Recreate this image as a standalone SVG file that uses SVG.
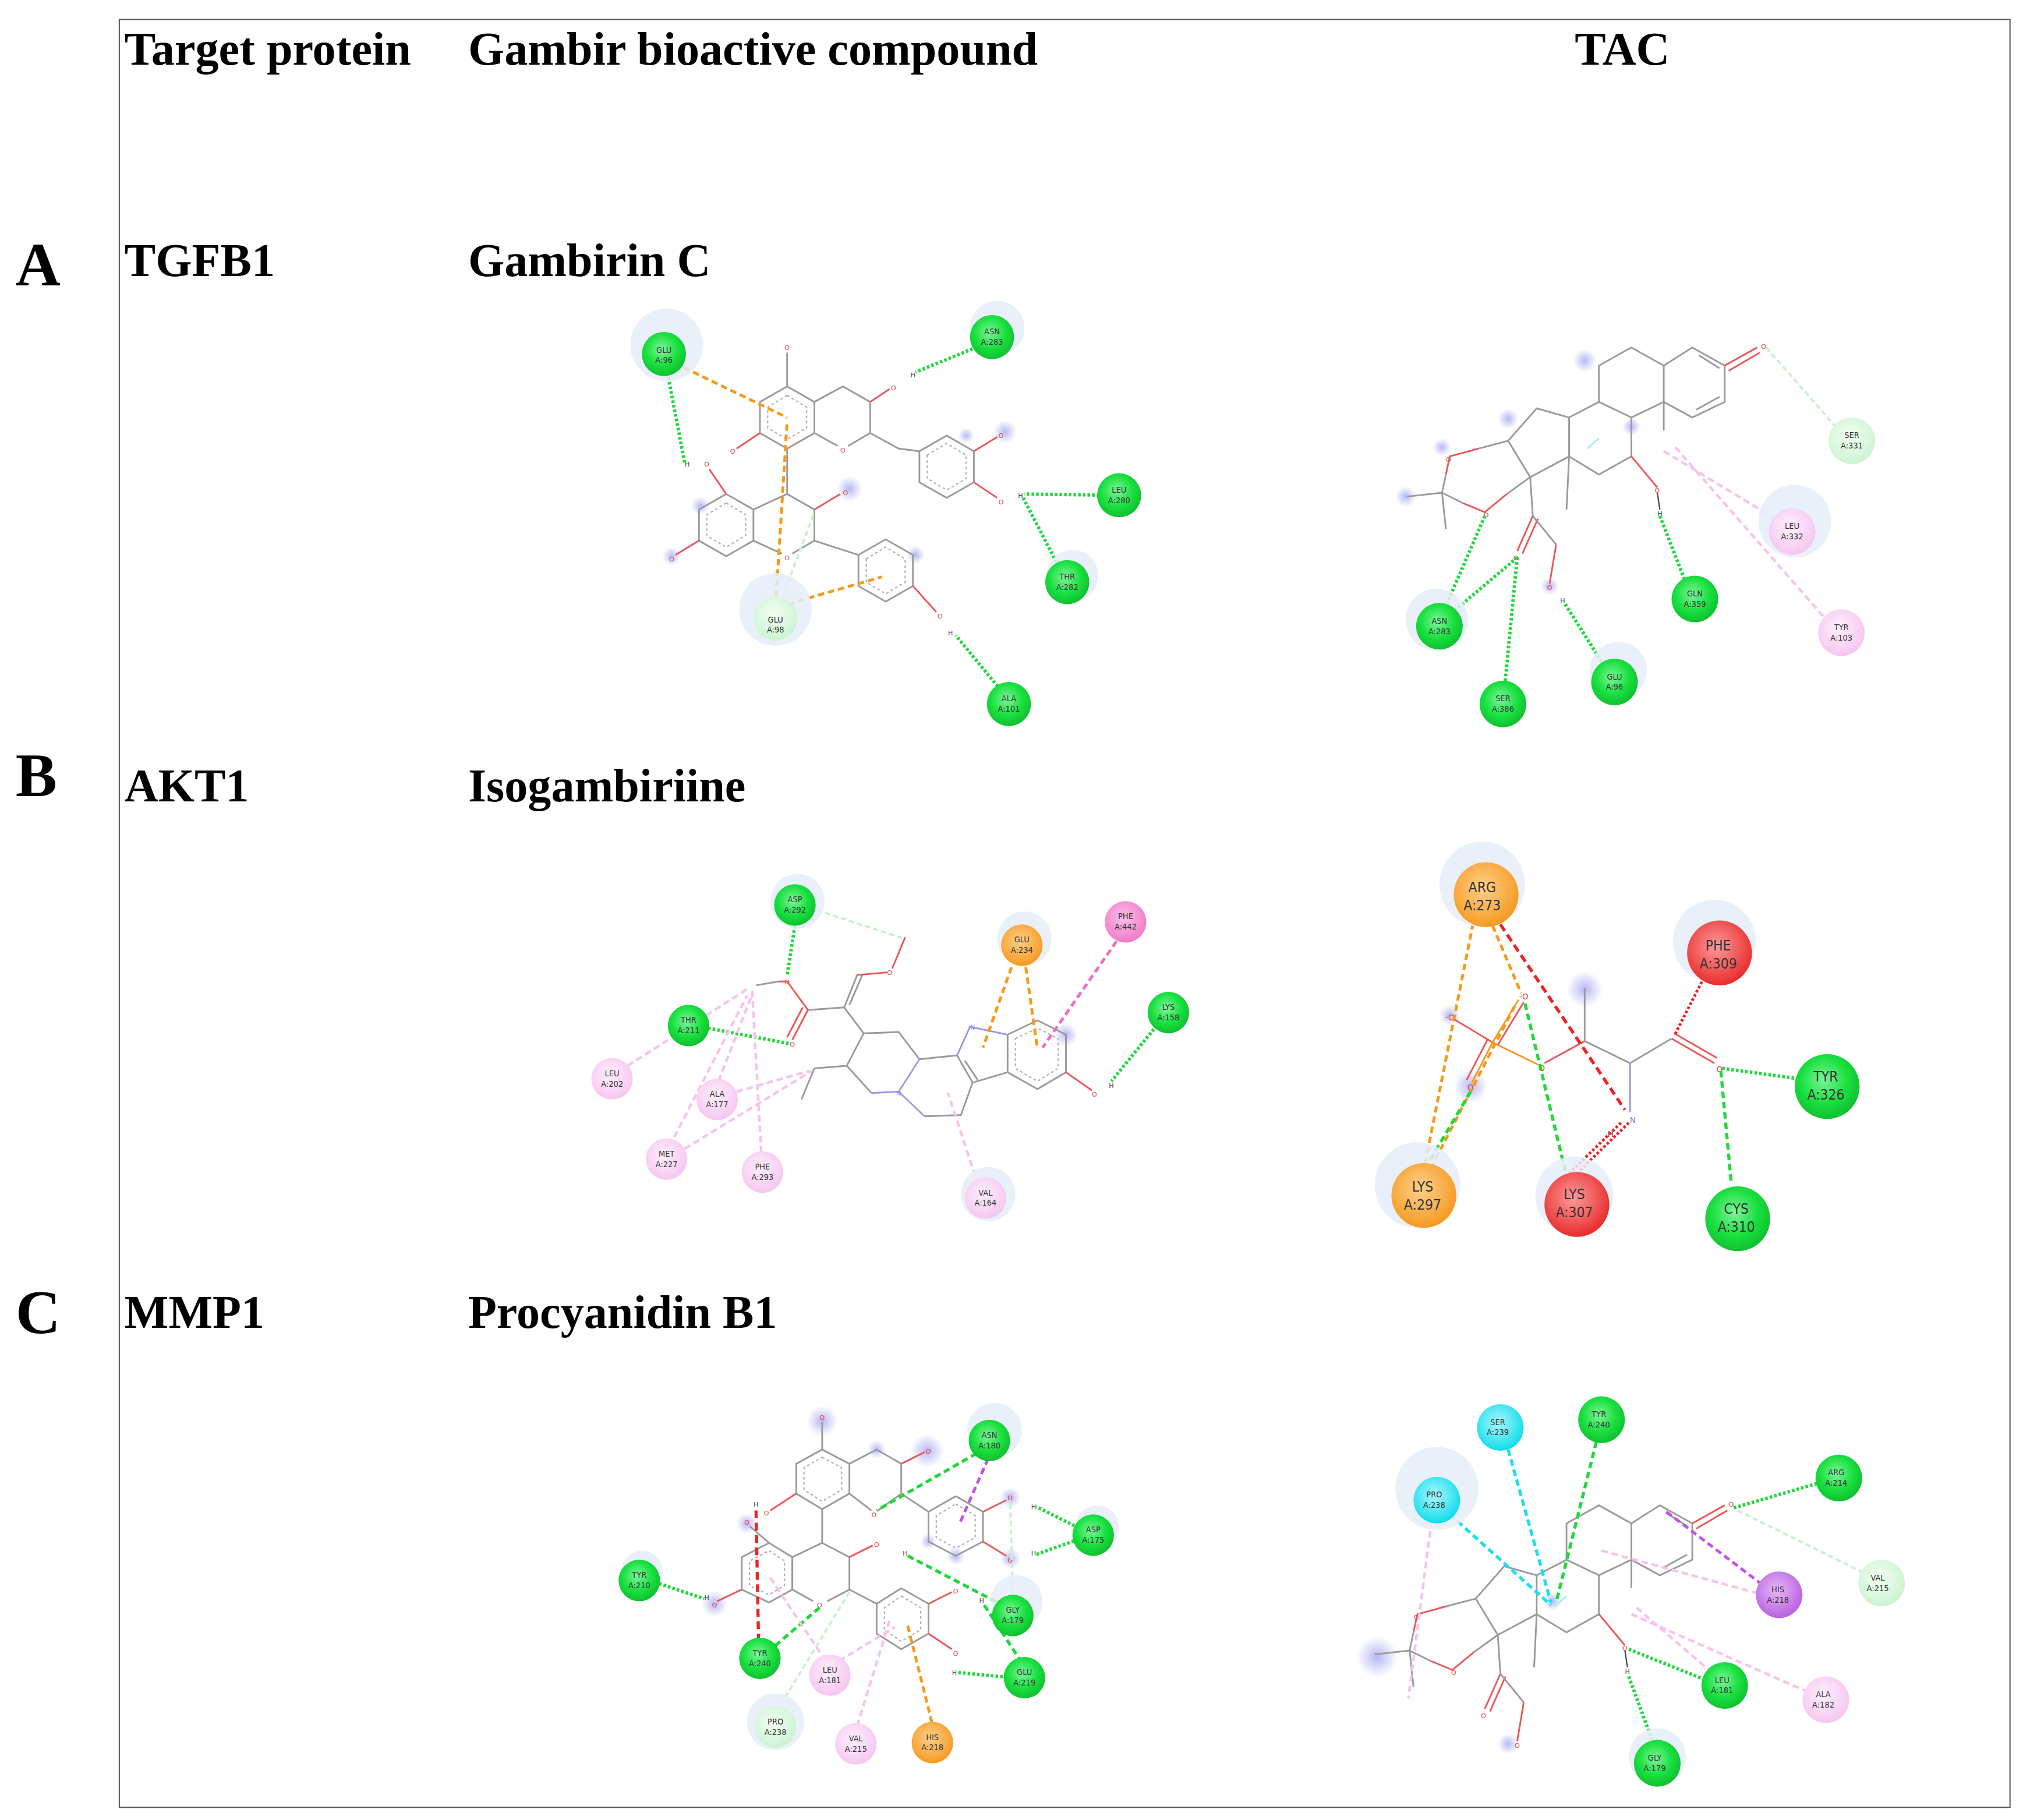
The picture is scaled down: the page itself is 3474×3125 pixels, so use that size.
<svg xmlns="http://www.w3.org/2000/svg" width="3474" height="3125" viewBox="0 0 3474 3125">
<defs>
<radialGradient id="gG" cx="45%" cy="40%" r="60%"><stop offset="0" stop-color="#7df59a"/><stop offset="0.6" stop-color="#18e03e"/><stop offset="1" stop-color="#10c030"/></radialGradient>
<radialGradient id="gP" cx="45%" cy="40%" r="60%"><stop offset="0" stop-color="#fff0fd"/><stop offset="1" stop-color="#f5c6f0"/></radialGradient>
<radialGradient id="gL" cx="45%" cy="40%" r="60%"><stop offset="0" stop-color="#f2fff3"/><stop offset="1" stop-color="#cdf3d2"/></radialGradient>
<radialGradient id="gO" cx="45%" cy="40%" r="60%"><stop offset="0" stop-color="#ffd08a"/><stop offset="1" stop-color="#f59a22"/></radialGradient>
<radialGradient id="gR" cx="45%" cy="40%" r="60%"><stop offset="0" stop-color="#ff9a9a"/><stop offset="1" stop-color="#e82c2c"/></radialGradient>
<radialGradient id="gC" cx="45%" cy="40%" r="60%"><stop offset="0" stop-color="#aaf8ff"/><stop offset="1" stop-color="#10dcea"/></radialGradient>
<radialGradient id="gV" cx="45%" cy="40%" r="60%"><stop offset="0" stop-color="#e6b8f8"/><stop offset="1" stop-color="#b761e0"/></radialGradient>
<radialGradient id="gM" cx="45%" cy="40%" r="60%"><stop offset="0" stop-color="#fcc0e8"/><stop offset="1" stop-color="#f07ac8"/></radialGradient>
<radialGradient id="glow" cx="50%" cy="50%" r="50%"><stop offset="0" stop-color="#b8b8f4"/><stop offset="1" stop-color="#b8b8f4" stop-opacity="0"/></radialGradient>
<g id="steroid">
<polyline class="b" points="1283,282 1305,268 1330,282 1330,310 1305,322 1283,310 1283,282"/>
<polyline class="b" points="1310,274 1326,284"/>
<polyline class="b" points="1326,306 1308,316"/>
<line class="bo" x1="1330" y1="282" x2="1355" y2="268"/>
<line class="bo" x1="1333" y1="286" x2="1357" y2="272"/>
<polyline class="b" points="1283,282 1258,268 1233,282 1233,310 1258,322 1283,310"/>
<polyline class="b" points="1233,310 1210,322 1210,352 1233,366 1258,352 1258,322"/>
<polyline class="b" points="1210,322 1185,315 1163,340 1180,368 1210,352"/>
<polyline class="b" points="1163,340 1140,346"/><polyline class="bo" points="1140,346 1118,352 1115,366"/><polyline class="b" points="1115,366 1112,380 1128,388"/><polyline class="bo" points="1128,388 1145,395 1162,381"/><polyline class="b" points="1162,381 1180,368"/>
<line class="b" x1="1112" y1="380" x2="1085" y2="383"/>
<line class="b" x1="1112" y1="380" x2="1115" y2="408"/>
<line class="b" x1="1180" y1="368" x2="1182" y2="398"/>
<line class="bo" x1="1182" y1="398" x2="1170" y2="425"/>
<line class="bo" x1="1186" y1="400" x2="1174" y2="427"/>
<polyline class="b" points="1182,398 1200,420"/><polyline class="bo" points="1200,420 1195,450"/>
<line class="b" x1="1210" y1="352" x2="1208" y2="393"/>
<line class="b" x1="1283" y1="310" x2="1283" y2="332"/>
<line x1="1224" y1="346" x2="1233" y2="338" stroke="#9ef0f0" stroke-width="1.2"/>
<line class="bo" x1="1258" y1="352" x2="1278" y2="376"/>
<line x1="1278" y1="380" x2="1280" y2="393" stroke="#444" stroke-width="1"/>
</g>
</defs>
<style>
.hd{font-family:"Liberation Serif",serif;font-weight:bold;font-size:36px;fill:#000}
.big{font-family:"Liberation Serif",serif;font-weight:bold;font-size:48px;fill:#000}
.rl{font-family:"DejaVu Sans Condensed","DejaVu Sans",sans-serif;font-size:6.5px;fill:#333;text-anchor:middle}
.rb{font-family:"DejaVu Sans Condensed","DejaVu Sans",sans-serif;font-size:11px;fill:#333;text-anchor:middle}
.b{fill:none;stroke:#9a9a9a;stroke-width:1.3}
.bo{fill:none;stroke:#ee5555;stroke-width:1.3}
.bn{fill:none;stroke:#9a9ae0;stroke-width:1.3}
.ar{fill:none;stroke:#b0b0b0;stroke-width:1;stroke-dasharray:2 2}
.halo{fill:#e6edf8;opacity:0.85}
.gl{fill:url(#glow)}
.hg{stroke:#1fd93a;stroke-width:2.6;stroke-dasharray:2 1.6;fill:none}
.hgd{stroke:#1fd93a;stroke-width:2.4;stroke-dasharray:5 3;fill:none}
.lg{stroke:#c8f2cc;stroke-width:1.8;stroke-dasharray:4 2.5;fill:none}
.or{stroke:#f59a18;stroke-width:2.2;stroke-dasharray:5 3;fill:none}
.pk{stroke:#f7c2ee;stroke-width:2;stroke-dasharray:5 3;fill:none}
.mg{stroke:#f06ac0;stroke-width:2.2;stroke-dasharray:5 3;fill:none}
.rd{stroke:#ee2222;stroke-width:2.4;stroke-dasharray:6 3.5;fill:none}
.rdd{stroke:#ee2222;stroke-width:2.2;stroke-dasharray:2 1.6;fill:none}
.cy{stroke:#18e0f0;stroke-width:2.4;stroke-dasharray:5 3;fill:none}
.pu{stroke:#c050e8;stroke-width:2.2;stroke-dasharray:5 3;fill:none}
.at{font-family:"DejaVu Sans",sans-serif;font-size:5px;fill:#e04444;text-anchor:middle}
.ah{font-family:"DejaVu Sans",sans-serif;font-size:5px;fill:#444;text-anchor:middle}
.an{font-family:"DejaVu Sans",sans-serif;font-size:5px;fill:#8080e0;text-anchor:middle}
</style>
<rect width="3474" height="3125" fill="#fff"/>
<g transform="scale(2.2269,2.2262)">
<rect x="92" y="15" width="1458" height="1379" fill="none" stroke="#555" stroke-width="0.9"/>
<g id="headers">
<text class="hd" x="96" y="50">Target protein</text>
<text class="hd" x="361" y="50">Gambir bioactive compound</text>
<text class="hd" x="1251" y="50" text-anchor="middle">TAC</text>
<text class="big" x="12" y="220">A</text>
<text class="hd" x="96" y="213">TGFB1</text>
<text class="hd" x="361" y="213">Gambirin C</text>
<text class="big" x="12" y="614">B</text>
<text class="hd" x="96" y="618">AKT1</text>
<text class="hd" x="361" y="618">Isogambiriine</text>
<text class="big" x="12" y="1028">C</text>
<text class="hd" x="96" y="1024">MMP1</text>
<text class="hd" x="361" y="1024">Procyanidin B1</text>
</g>

<!-- ===== Panel A left: Gambirin C ===== -->
<g id="mol-a-left">
<circle class="gl" cx="655" cy="377" r="10"/><circle class="gl" cx="775" cy="333" r="9"/><circle class="gl" cx="540" cy="390" r="7"/><circle class="gl" cx="518" cy="429" r="7"/><circle class="gl" cx="706" cy="428" r="7"/><circle class="gl" cx="745" cy="336" r="6"/>
<polyline class="b" points="607,298 628,310 628,334 607,346 586,334 586,310 607,298"/>
<polygon class="ar" points="607,305 622,314 622,330 607,339 592,330 592,314"/>
<polyline class="b" points="628,310 650,298 671,310 671,334"/>
<polyline class="b" points="671,334 654,344"/><polyline class="b" points="646,344 628,334"/><text class="at" x="650" y="349">O</text>
<line class="b" x1="607" y1="298" x2="607" y2="272"/><text class="at" x="607" y="270">O</text>
<line class="bo" x1="586" y1="334" x2="568" y2="346"/><text class="at" x="565" y="350">O</text>
<line class="bo" x1="671" y1="310" x2="686" y2="300"/><text class="at" x="689" y="301">O</text><text class="ah" x="704" y="291">H</text>
<polyline class="b" points="671,334 693,346 709,348"/>
<polyline class="b" points="709,348 730,336 751,348 751,372 730,384 709,372 709,348"/>
<polygon class="ar" points="715,351 730,342 745,351 745,369 730,378 715,369"/>
<line class="bo" x1="751" y1="348" x2="769" y2="337"/><text class="at" x="772" y="338">O</text>
<line class="bo" x1="751" y1="372" x2="769" y2="384"/><text class="at" x="772" y="389">O</text><text class="ah" x="787" y="384">H</text>
<line class="b" x1="607" y1="346" x2="607" y2="381"/>
<polyline class="b" points="560,381 581,393 581,417 560,429 539,417 539,393 560,381"/>
<polygon class="ar" points="560,388 575,397 575,413 560,422 545,413 545,397"/>
<polyline class="b" points="581,393 607,381 628,393 628,417 611,427"/><polyline class="b" points="603,427 581,417"/>
<line class="bo" x1="628" y1="393" x2="648" y2="381"/><text class="at" x="652" y="382">O</text>
<text class="at" x="607" y="432">O</text>
<line class="bo" x1="560" y1="381" x2="547" y2="362"/><text class="at" x="545" y="360">O</text><text class="ah" x="530" y="360">H</text>
<line class="bo" x1="539" y1="417" x2="521" y2="428"/><text class="at" x="518" y="433">O</text>
<line class="b" x1="628" y1="417" x2="662" y2="428"/>
<polyline class="b" points="662,428 683,416 704,428 704,452 683,464 662,452 662,428"/>
<polygon class="ar" points="668,431 683,422 698,431 698,449 683,458 668,449"/>
<line class="bo" x1="704" y1="452" x2="722" y2="472"/><text class="at" x="725" y="477">O</text><text class="ah" x="733" y="490">H</text>
</g>
<g id="conn-a-left">
<line class="or" x1="520" y1="280" x2="607" y2="322"/>
<line class="or" x1="598" y1="468" x2="607" y2="325"/>
<line class="or" x1="600" y1="468" x2="680" y2="445"/>
<line class="lg" x1="603" y1="462" x2="628" y2="395"/>
<line class="hg" x1="514" y1="284" x2="528" y2="357"/>
<line class="hg" x1="760" y1="265" x2="706" y2="287"/>
<line class="hg" x1="855" y1="382" x2="790" y2="381"/>
<line class="hg" x1="818" y1="440" x2="789" y2="384"/>
<line class="hg" x1="774" y1="535" x2="737" y2="490"/>
</g>
<g id="res-a-left">
<circle class="halo" cx="514" cy="266" r="28"/><circle class="halo" cx="769" cy="253" r="21"/><circle class="halo" cx="598" cy="470" r="28"/><circle class="halo" cx="827" cy="444" r="20"/>
<g id="a-glu96"><circle cx="512" cy="273" r="17" fill="url(#gG)"/><text class="rl" x="512" y="272">GLU</text><text class="rl" x="512" y="280">A:96</text></g>
<g id="a-asn283"><circle cx="765" cy="260" r="17" fill="url(#gG)"/><text class="rl" x="765" y="258">ASN</text><text class="rl" x="765" y="266">A:283</text></g>
<g id="a-leu280"><circle cx="863" cy="382" r="17" fill="url(#gG)"/><text class="rl" x="863" y="380">LEU</text><text class="rl" x="863" y="388">A:280</text></g>
<g id="a-thr282"><circle cx="823" cy="449" r="17" fill="url(#gG)"/><text class="rl" x="823" y="447">THR</text><text class="rl" x="823" y="455">A:282</text></g>
<g id="a-ala101"><circle cx="778" cy="543" r="17" fill="url(#gG)"/><text class="rl" x="778" y="541">ALA</text><text class="rl" x="778" y="549">A:101</text></g>
<g id="a-glu98"><circle cx="598" cy="477" r="17" fill="url(#gL)"/><text class="rl" x="598" y="480">GLU</text><text class="rl" x="598" y="488">A:98</text></g>
</g>

<!-- ===== Panel A right: TAC ===== -->
<g id="mol-a-right">
<circle class="gl" cx="1222" cy="278" r="9"/><circle class="gl" cx="1163" cy="323" r="8"/><circle class="gl" cx="1084" cy="383" r="8"/><circle class="gl" cx="1112" cy="345" r="7"/><circle class="gl" cx="1258" cy="329" r="7"/><circle class="gl" cx="1195" cy="452" r="7"/>
<use href="#steroid"/>
<text class="at" x="1360" y="269">O</text><text class="at" x="1117" y="356">O</text><text class="at" x="1146" y="399">O</text><text class="at" x="1169" y="432">O</text><text class="at" x="1195" y="455">O</text><text class="ah" x="1205" y="465">H</text><text class="at" x="1278" y="380">O</text><text class="ah" x="1280" y="398">H</text>
</g>
<g id="conn-a-right">
<line class="lg" x1="1362" y1="268" x2="1418" y2="332"/>
<line class="pk" x1="1283" y1="348" x2="1372" y2="402"/>
<line class="pk" x1="1292" y1="345" x2="1410" y2="480"/>
<line class="hg" x1="1280" y1="398" x2="1301" y2="452"/>
<line class="hg" x1="1207" y1="466" x2="1238" y2="515"/>
<line class="hg" x1="1170" y1="430" x2="1160" y2="533"/>
<line class="hg" x1="1170" y1="430" x2="1118" y2="474"/>
<line class="hg" x1="1145" y1="398" x2="1113" y2="472"/>
</g>
<g id="res-a-right">
<circle class="halo" cx="1384" cy="402" r="28"/><circle class="halo" cx="1108" cy="478" r="24"/><circle class="halo" cx="1248" cy="517" r="22"/>
<g id="a-ser331"><circle cx="1428" cy="340" r="18" fill="url(#gL)"/><text class="rl" x="1428" y="338">SER</text><text class="rl" x="1428" y="346">A:331</text></g>
<g id="a-leu332"><circle cx="1382" cy="410" r="18" fill="url(#gP)"/><text class="rl" x="1382" y="408">LEU</text><text class="rl" x="1382" y="416">A:332</text></g>
<g id="a-tyr103"><circle cx="1420" cy="488" r="18" fill="url(#gP)"/><text class="rl" x="1420" y="486">TYR</text><text class="rl" x="1420" y="494">A:103</text></g>
<g id="a-gln359"><circle cx="1307" cy="462" r="18" fill="url(#gG)"/><text class="rl" x="1307" y="460">GLN</text><text class="rl" x="1307" y="468">A:359</text></g>
<g id="a-glu96r"><circle cx="1245" cy="526" r="18" fill="url(#gG)"/><text class="rl" x="1245" y="524">GLU</text><text class="rl" x="1245" y="532">A:96</text></g>
<g id="a-ser386"><circle cx="1159" cy="543" r="18" fill="url(#gG)"/><text class="rl" x="1159" y="541">SER</text><text class="rl" x="1159" y="549">A:386</text></g>
<g id="a-asn283r"><circle cx="1110" cy="483" r="18" fill="url(#gG)"/><text class="rl" x="1110" y="481">ASN</text><text class="rl" x="1110" y="489">A:283</text></g>
</g>

<!-- ===== Panel B left: Isogambiriine ===== -->
<g id="mol-b-left">
<circle class="gl" cx="822" cy="798" r="9"/>
<polyline class="b" points="583,760 600,757"/>
<polyline class="bo" points="600,757 607,757 623,779"/>
<line class="bo" x1="623" y1="779" x2="611" y2="802"/><line class="bo" x1="619" y1="777" x2="607" y2="800"/>
<line class="b" x1="623" y1="779" x2="651" y2="777"/>
<line class="b" x1="651" y1="777" x2="661" y2="752"/><line class="b" x1="655" y1="775" x2="665" y2="752"/>
<line class="bo" x1="661" y1="752" x2="684" y2="750"/><line class="bo" x1="688" y1="747" x2="698" y2="723"/>
<text class="at" x="607" y="759">O</text><text class="at" x="611" y="807">O</text><text class="at" x="686" y="752">O</text>
<line class="b" x1="651" y1="777" x2="666" y2="797"/>
<polyline class="b" points="666,797 693,796 709,817"/>
<polyline class="bn" points="709,817 693,842 672,843"/>
<polyline class="b" points="672,843 653,822 666,797"/>
<polyline class="b" points="653,822 628,824 618,848"/>
<polyline class="bn" points="693,842 713,861"/>
<polyline class="b" points="713,861 741,860 750,835 738,814 709,817"/>
<line class="b" x1="744" y1="818" x2="754" y2="833"/>
<polyline class="bn" points="738,814 748,792 777,798"/>
<text class="an" x="750" y="794">N</text><text class="an" x="693" y="845">N</text>
<line class="b" x1="750" y1="835" x2="777" y2="827"/>
<polyline class="b" points="777,798 800,787 822,798 822,827 800,840 777,827 777,798"/>
<polygon class="ar" points="783,801 800,793 816,801 816,824 800,834 783,824"/>
<line class="bo" x1="822" y1="827" x2="842" y2="841"/><text class="at" x="844" y="846">O</text><text class="ah" x="857" y="839">H</text>
</g>
<g id="conn-b-left">
<line class="hg" x1="613" y1="714" x2="607" y2="752"/>
<line class="lg" x1="630" y1="702" x2="697" y2="724"/>
<line class="hg" x1="546" y1="793" x2="609" y2="805"/>
<line class="or" x1="780" y1="746" x2="758" y2="808"/>
<line class="or" x1="791" y1="746" x2="800" y2="809"/>
<line class="mg" x1="861" y1="726" x2="804" y2="808"/>
<line class="hg" x1="892" y1="791" x2="857" y2="834"/>
<line class="pk" x1="484" y1="822" x2="576" y2="763"/>
<line class="pk" x1="568" y1="842" x2="624" y2="826"/>
<line class="pk" x1="554" y1="834" x2="580" y2="767"/>
<line class="pk" x1="520" y1="877" x2="576" y2="768"/>
<line class="pk" x1="528" y1="886" x2="626" y2="826"/>
<line class="pk" x1="587" y1="889" x2="580" y2="763"/>
<line class="pk" x1="752" y1="907" x2="731" y2="843"/>
</g>
<g id="res-b-left">
<circle class="halo" cx="615" cy="695" r="21"/><circle class="halo" cx="790" cy="724" r="21"/><circle class="halo" cx="762" cy="921" r="21"/>
<g id="b-asp292"><circle cx="613" cy="698" r="16" fill="url(#gG)"/><text class="rl" x="613" y="696">ASP</text><text class="rl" x="613" y="704">A:292</text></g>
<g id="b-glu234"><circle cx="788" cy="729" r="16" fill="url(#gO)"/><text class="rl" x="788" y="727">GLU</text><text class="rl" x="788" y="735">A:234</text></g>
<g id="b-phe442"><circle cx="868" cy="711" r="16" fill="url(#gM)"/><text class="rl" x="868" y="709">PHE</text><text class="rl" x="868" y="717">A:442</text></g>
<g id="b-lys158"><circle cx="901" cy="781" r="16" fill="url(#gG)"/><text class="rl" x="901" y="779">LYS</text><text class="rl" x="901" y="787">A:158</text></g>
<g id="b-thr211"><circle cx="531" cy="791" r="16" fill="url(#gG)"/><text class="rl" x="531" y="789">THR</text><text class="rl" x="531" y="797">A:211</text></g>
<g id="b-leu202"><circle cx="472" cy="832" r="16" fill="url(#gP)"/><text class="rl" x="472" y="830">LEU</text><text class="rl" x="472" y="838">A:202</text></g>
<g id="b-ala177"><circle cx="553" cy="848" r="16" fill="url(#gP)"/><text class="rl" x="553" y="846">ALA</text><text class="rl" x="553" y="854">A:177</text></g>
<g id="b-met227"><circle cx="514" cy="894" r="16" fill="url(#gP)"/><text class="rl" x="514" y="892">MET</text><text class="rl" x="514" y="900">A:227</text></g>
<g id="b-phe293"><circle cx="588" cy="904" r="16" fill="url(#gP)"/><text class="rl" x="588" y="902">PHE</text><text class="rl" x="588" y="910">A:293</text></g>
<g id="b-val164"><circle cx="760" cy="924" r="16" fill="url(#gP)"/><text class="rl" x="760" y="922">VAL</text><text class="rl" x="760" y="930">A:164</text></g>
</g>

<!-- ===== Panel B right: TAC ===== -->
<g id="mol-b-right">
<circle class="gl" cx="1222" cy="763" r="14"/><circle class="gl" cx="1118" cy="783" r="8"/><circle class="gl" cx="1134" cy="838" r="13"/>
<line class="bo" x1="1121" y1="786" x2="1151" y2="804"/>
<line x1="1151" y1="804" x2="1186" y2="821" stroke="#f59a18" stroke-width="1.3"/>
<line x1="1151" y1="804" x2="1171" y2="771" stroke="#f59a18" stroke-width="1.3"/><line class="bo" x1="1155" y1="806" x2="1175" y2="773"/>
<line x1="1151" y1="804" x2="1135" y2="835" stroke="#f59a18" stroke-width="1.3"/><line class="bo" x1="1147" y1="802" x2="1131" y2="833"/>
<text class="at" x="1118" y="787" style="font-size:6px">-O</text><text class="at" x="1175" y="771" style="font-size:6px">-O</text><text class="at" x="1134" y="841" style="font-size:6px">O</text><text class="at" x="1189" y="826" style="font-size:6px">O</text>
<text x="1151" y="807" style="font-family:'DejaVu Sans',sans-serif;font-size:6px;fill:#f59a18" text-anchor="middle">P</text>
<line class="bo" x1="1191" y1="820" x2="1222" y2="803"/>
<line class="b" x1="1222" y1="803" x2="1222" y2="762"/>
<line class="b" x1="1222" y1="803" x2="1257" y2="820"/>
<line class="bn" x1="1257" y1="820" x2="1257" y2="858"/>
<text class="an" x="1259" y="866" style="font-size:6px">N</text><text class="ah" x="1242" y="877" style="font-size:6px">H</text>
<line class="b" x1="1257" y1="820" x2="1289" y2="801"/>
<line class="bo" x1="1289" y1="801" x2="1322" y2="820"/><line class="bo" x1="1291" y1="797" x2="1324" y2="816"/>
<text class="at" x="1326" y="827" style="font-size:6px">O</text>
</g>
<g id="conn-b-right">
<line class="or" x1="1136" y1="712" x2="1099" y2="897"/>
<line class="or" x1="1151" y1="714" x2="1173" y2="766"/>
<line class="or" x1="1168" y1="776" x2="1105" y2="898"/>
<line class="hgd" x1="1134" y1="842" x2="1102" y2="896"/>
<line class="rd" x1="1157" y1="713" x2="1253" y2="856"/>
<line class="hgd" x1="1176" y1="774" x2="1207" y2="903"/>
<line class="rdd" x1="1256" y1="866" x2="1215" y2="906"/>
<line class="rdd" x1="1250" y1="866" x2="1209" y2="906"/>
<line class="rdd" x1="1314" y1="754" x2="1291" y2="799"/>
<line class="hg" x1="1328" y1="824" x2="1394" y2="833"/>
<line class="hgd" x1="1327" y1="826" x2="1335" y2="912"/>
</g>
<g id="res-b-right">
<circle class="halo" cx="1143" cy="682" r="33"/><circle class="halo" cx="1093" cy="914" r="33"/><circle class="halo" cx="1322" cy="726" r="32"/><circle class="halo" cx="1214" cy="922" r="30"/>
<g id="b-arg273"><circle cx="1146" cy="690" r="25" fill="url(#gO)"/><text class="rb" x="1143" y="688">ARG</text><text class="rb" x="1143" y="702">A:273</text></g>
<g id="b-phe309"><circle cx="1326" cy="735" r="25" fill="url(#gR)"/><text class="rb" x="1325" y="733">PHE</text><text class="rb" x="1325" y="747">A:309</text></g>
<g id="b-tyr326"><circle cx="1409" cy="838" r="25" fill="url(#gG)"/><text class="rb" x="1408" y="834">TYR</text><text class="rb" x="1408" y="848">A:326</text></g>
<g id="b-cys310"><circle cx="1340" cy="940" r="25" fill="url(#gG)"/><text class="rb" x="1339" y="936">CYS</text><text class="rb" x="1339" y="950">A:310</text></g>
<g id="b-lys297"><circle cx="1098" cy="922" r="25" fill="url(#gO)"/><text class="rb" x="1097" y="919">LYS</text><text class="rb" x="1097" y="933">A:297</text></g>
<g id="b-lys307"><circle cx="1216" cy="929" r="25" fill="url(#gR)"/><text class="rb" x="1214" y="925">LYS</text><text class="rb" x="1214" y="939">A:307</text></g>
</g>

<!-- ===== Panel C left: Procyanidin B1 ===== -->
<g id="mol-c-left">
<circle class="gl" cx="634" cy="1096" r="12"/><circle class="gl" cx="715" cy="1119" r="13"/><circle class="gl" cx="676" cy="1118" r="7"/><circle class="gl" cx="779" cy="1155" r="8"/><circle class="gl" cx="779" cy="1202" r="8"/><circle class="gl" cx="551" cy="1237" r="10"/><circle class="gl" cx="576" cy="1175" r="8"/><circle class="gl" cx="737" cy="1200" r="7"/><circle class="gl" cx="716" cy="1189" r="6"/>
<polyline class="b" points="634,1118 655,1129 655,1152 634,1164 614,1152 614,1129 634,1118"/>
<polygon class="ar" points="634,1124 649,1132 649,1149 634,1158 620,1149 620,1132"/>
<line class="b" x1="634" y1="1118" x2="634" y2="1097"/><text class="at" x="634" y="1095">O</text>
<polyline class="b" points="655,1129 676,1118 695,1129 695,1152"/>
<line class="b" x1="655" y1="1152" x2="672" y2="1165"/><line class="b" x1="695" y1="1152" x2="677" y2="1165"/><text class="at" x="674" y="1170">O</text>
<line class="bo" x1="695" y1="1129" x2="713" y2="1120"/><text class="at" x="716" y="1121">O</text>
<line class="b" x1="695" y1="1152" x2="716" y2="1166"/>
<polyline class="b" points="737,1154 758,1166 758,1189 737,1200 716,1189 716,1166 737,1154"/>
<polygon class="ar" points="737,1160 752,1169 752,1186 737,1194 722,1186 722,1169"/>
<line class="bo" x1="758" y1="1166" x2="776" y2="1157"/><text class="at" x="779" y="1157">O</text><text class="ah" x="797" y="1164">H</text>
<line class="bo" x1="758" y1="1189" x2="776" y2="1200"/><text class="at" x="779" y="1205">O</text><text class="ah" x="797" y="1200">H</text>
<line class="bo" x1="614" y1="1152" x2="594" y2="1165"/><text class="at" x="591" y="1169">O</text><text class="ah" x="583" y="1162">H</text>
<line class="b" x1="634" y1="1164" x2="634" y2="1190"/>
<polyline class="b" points="634,1190 655,1201 655,1226 638,1235"/><polyline class="b" points="627,1235 611,1226 611,1201 634,1190"/><text class="at" x="632" y="1240">O</text>
<line class="bo" x1="655" y1="1201" x2="673" y2="1192"/><text class="at" x="676" y="1193">O</text><text class="ah" x="698" y="1200">H</text>
<polyline class="b" points="593,1190 611,1201 611,1226 593,1236 572,1226 572,1201 593,1190"/>
<polygon class="ar" points="593,1196 605,1204 605,1223 593,1230 578,1223 578,1204"/>
<line class="b" x1="593" y1="1190" x2="578" y2="1177"/><text class="at" x="576" y="1176">O</text>
<line class="bo" x1="572" y1="1226" x2="553" y2="1235"/><text class="at" x="551" y="1240">O</text><text class="ah" x="545" y="1234">H</text>
<line class="b" x1="655" y1="1226" x2="676" y2="1237"/>
<polyline class="b" points="695,1225 716,1237 716,1260 695,1272 676,1260 676,1237 695,1225"/>
<polygon class="ar" points="695,1231 710,1240 710,1257 695,1266 682,1257 682,1240"/>
<line class="bo" x1="716" y1="1237" x2="734" y2="1228"/><text class="at" x="737" y="1229">O</text><text class="ah" x="757" y="1236">H</text>
<line class="bo" x1="716" y1="1260" x2="734" y2="1272"/><text class="at" x="737" y="1277">O</text><text class="ah" x="736" y="1292">H</text>
</g>
<g id="conn-c-left">
<line class="hgd" x1="760" y1="1117" x2="676" y2="1165"/>
<line class="pu" x1="762" y1="1125" x2="740" y2="1175"/>
<line class="hg" x1="835" y1="1180" x2="799" y2="1162"/>
<line class="hg" x1="835" y1="1186" x2="799" y2="1199"/>
<line class="lg" x1="779" y1="1160" x2="781" y2="1228"/>
<line class="hgd" x1="700" y1="1200" x2="777" y2="1240"/>
<line class="hgd" x1="759" y1="1238" x2="789" y2="1284"/>
<line class="hg" x1="739" y1="1290" x2="781" y2="1294"/>
<line class="hg" x1="498" y1="1218" x2="543" y2="1233"/>
<line class="rd" x1="583" y1="1165" x2="585" y2="1268"/>
<line class="hgd" x1="632" y1="1240" x2="590" y2="1276"/>
<line class="pk" x1="594" y1="1217" x2="636" y2="1280"/>
<line class="lg" x1="655" y1="1228" x2="600" y2="1318"/>
<line class="pk" x1="647" y1="1281" x2="690" y2="1255"/>
<line class="pk" x1="686" y1="1250" x2="661" y2="1331"/>
<line class="or" x1="700" y1="1254" x2="719" y2="1330"/>
</g>
<g id="res-c-left">
<circle class="halo" cx="767" cy="1103" r="21"/><circle class="halo" cx="598" cy="1328" r="22"/><circle class="halo" cx="784" cy="1235" r="20"/><circle class="halo" cx="846" cy="1178" r="17"/><circle class="halo" cx="495" cy="1212" r="16"/>
<g id="c-asn180"><circle cx="763" cy="1111" r="16" fill="url(#gG)"/><text class="rl" x="763" y="1109">ASN</text><text class="rl" x="763" y="1117">A:180</text></g>
<g id="c-asp175"><circle cx="843" cy="1184" r="16" fill="url(#gG)"/><text class="rl" x="843" y="1182">ASP</text><text class="rl" x="843" y="1190">A:175</text></g>
<g id="c-gly179"><circle cx="781" cy="1246" r="16" fill="url(#gG)"/><text class="rl" x="781" y="1244">GLY</text><text class="rl" x="781" y="1252">A:179</text></g>
<g id="c-glu219"><circle cx="790" cy="1294" r="16" fill="url(#gG)"/><text class="rl" x="790" y="1292">GLU</text><text class="rl" x="790" y="1300">A:219</text></g>
<g id="c-his218"><circle cx="719" cy="1344" r="16" fill="url(#gO)"/><text class="rl" x="719" y="1342">HIS</text><text class="rl" x="719" y="1350">A:218</text></g>
<g id="c-val215"><circle cx="660" cy="1345" r="16" fill="url(#gP)"/><text class="rl" x="660" y="1343">VAL</text><text class="rl" x="660" y="1351">A:215</text></g>
<g id="c-pro238"><circle cx="598" cy="1332" r="16" fill="url(#gL)"/><text class="rl" x="598" y="1330">PRO</text><text class="rl" x="598" y="1338">A:238</text></g>
<g id="c-leu181"><circle cx="640" cy="1292" r="16" fill="url(#gP)"/><text class="rl" x="640" y="1290">LEU</text><text class="rl" x="640" y="1298">A:181</text></g>
<g id="c-tyr240"><circle cx="586" cy="1279" r="16" fill="url(#gG)"/><text class="rl" x="586" y="1277">TYR</text><text class="rl" x="586" y="1285">A:240</text></g>
<g id="c-tyr210"><circle cx="493" cy="1219" r="16" fill="url(#gG)"/><text class="rl" x="493" y="1217">TYR</text><text class="rl" x="493" y="1225">A:210</text></g>
</g>

<!-- ===== Panel C right: TAC ===== -->
<g id="mol-c-right">
<circle class="gl" cx="1062" cy="1278" r="16"/><circle class="gl" cx="1163" cy="1345" r="8"/><circle class="gl" cx="1197" cy="1235" r="7"/>
<use href="#steroid" transform="translate(-25,893)"/>
<text class="at" x="1335" y="1162">O</text><text class="at" x="1092" y="1249">O</text><text class="at" x="1121" y="1292">O</text><text class="at" x="1144" y="1325">O</text><text class="at" x="1170" y="1348">O</text><text class="at" x="1253" y="1273">O</text><text class="ah" x="1255" y="1291">H</text>
</g>
<g id="conn-c-right">
<line class="cy" x1="1163" y1="1118" x2="1196" y2="1236"/>
<line class="cy" x1="1118" y1="1168" x2="1196" y2="1238"/>
<line class="hgd" x1="1231" y1="1112" x2="1200" y2="1236"/>
<line class="hg" x1="1337" y1="1163" x2="1402" y2="1144"/>
<line class="lg" x1="1340" y1="1165" x2="1437" y2="1213"/>
<line class="pu" x1="1285" y1="1166" x2="1360" y2="1223"/>
<line class="pk" x1="1235" y1="1196" x2="1356" y2="1229"/>
<line class="hg" x1="1256" y1="1272" x2="1316" y2="1296"/>
<line class="pk" x1="1258" y1="1245" x2="1394" y2="1305"/>
<line class="pk" x1="1262" y1="1240" x2="1320" y2="1290"/>
<line class="hg" x1="1256" y1="1293" x2="1275" y2="1345"/>
<line class="pk" x1="1104" y1="1173" x2="1086" y2="1310"/>
</g>
<g id="res-c-right">
<circle class="halo" cx="1108" cy="1148" r="32"/><circle class="halo" cx="1278" cy="1355" r="22"/>
<g id="c-ser239"><circle cx="1157" cy="1101" r="18" fill="url(#gC)"/><text class="rl" x="1155" y="1099">SER</text><text class="rl" x="1155" y="1107">A:239</text></g>
<g id="c-tyr240r"><circle cx="1235" cy="1095" r="18" fill="url(#gG)"/><text class="rl" x="1233" y="1093">TYR</text><text class="rl" x="1233" y="1101">A:240</text></g>
<g id="c-arg214"><circle cx="1418" cy="1140" r="18" fill="url(#gG)"/><text class="rl" x="1416" y="1138">ARG</text><text class="rl" x="1416" y="1146">A:214</text></g>
<g id="c-pro238r"><circle cx="1108" cy="1157" r="18" fill="url(#gC)"/><text class="rl" x="1106" y="1155">PRO</text><text class="rl" x="1106" y="1163">A:238</text></g>
<g id="c-his218r"><circle cx="1372" cy="1230" r="18" fill="url(#gV)"/><text class="rl" x="1371" y="1228">HIS</text><text class="rl" x="1371" y="1236">A:218</text></g>
<g id="c-val215r"><circle cx="1451" cy="1221" r="18" fill="url(#gL)"/><text class="rl" x="1448" y="1219">VAL</text><text class="rl" x="1448" y="1227">A:215</text></g>
<g id="c-leu181r"><circle cx="1330" cy="1300" r="18" fill="url(#gG)"/><text class="rl" x="1328" y="1298">LEU</text><text class="rl" x="1328" y="1306">A:181</text></g>
<g id="c-ala182"><circle cx="1408" cy="1311" r="18" fill="url(#gP)"/><text class="rl" x="1406" y="1309">ALA</text><text class="rl" x="1406" y="1317">A:182</text></g>
<g id="c-gly179r"><circle cx="1278" cy="1360" r="18" fill="url(#gG)"/><text class="rl" x="1276" y="1358">GLY</text><text class="rl" x="1276" y="1366">A:179</text></g>
</g>
</g>
</svg>
